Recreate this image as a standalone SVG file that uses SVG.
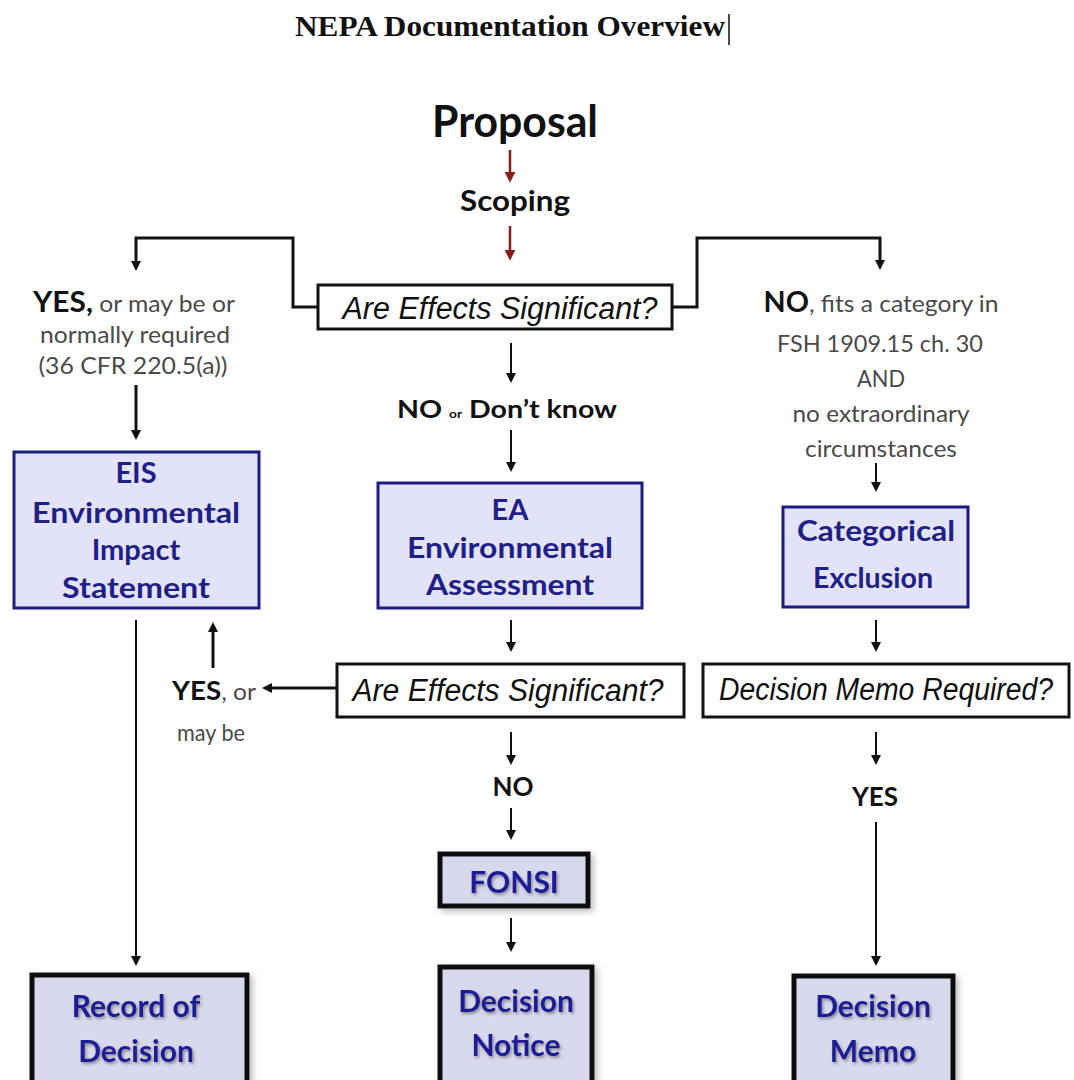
<svg xmlns="http://www.w3.org/2000/svg" width="1074" height="1080" viewBox="0 0 1074 1080">
<style>
  .title{font-family:"Liberation Serif","Times New Roman",serif;font-weight:700;font-size:30px;fill:#111}
  .big{font-family:Lato,"Open Sans","Liberation Sans",sans-serif;font-weight:700;fill:#111}
  .lbl{font-family:Lato,"Open Sans","Liberation Sans",sans-serif;font-size:24px;fill:#4a4a4a}
  .lblb{font-weight:700;fill:#111}
  .q{font-family:"Liberation Sans",Arial,sans-serif;font-style:italic;font-size:31px;fill:#111}
  .qbox{fill:#fff;stroke:#111;stroke-width:3}
  .docbox{fill:#e2e2f9;stroke:#1c1c82;stroke-width:3}
  .endbox{fill:#d9d9ee;stroke:#111;stroke-width:5}
  .doct{font-family:Lato,"Open Sans","Liberation Sans",sans-serif;font-weight:700;font-size:29px;fill:#1f1f86}
  .endt{font-family:Lato,"Open Sans","Liberation Sans",sans-serif;font-weight:700;font-size:30px;fill:#1d1d96}
  .ln{fill:none;stroke:#111;stroke-width:2}
  .ln3{fill:none;stroke:#111;stroke-width:3}
  .red{fill:none;stroke:#8e1c1c;stroke-width:2.5}
</style>
<defs>
  <marker id="ah" viewBox="0 0 10 10" refX="2" refY="5" markerWidth="10" markerHeight="10" markerUnits="userSpaceOnUse" orient="auto">
    <path d="M0,0 L10,5 L0,10 z" fill="#111"/>
  </marker>
  <marker id="ahr" viewBox="0 0 10 10" refX="2" refY="5" markerWidth="11" markerHeight="11" markerUnits="userSpaceOnUse" orient="auto">
    <path d="M0,0 L10,5 L0,10 z" fill="#8e1c1c"/>
  </marker>
  <filter id="tsh" x="-10%" y="-20%" width="130%" height="150%">
    <feDropShadow dx="1.5" dy="2" stdDeviation="1.5" flood-color="#555" flood-opacity="0.6"/>
  </filter>
  <filter id="bsh" x="-10%" y="-10%" width="130%" height="130%">
    <feDropShadow dx="3" dy="3" stdDeviation="3" flood-color="#777" flood-opacity="0.5"/>
  </filter>
</defs>
<rect width="1074" height="1080" fill="#fff"/>

<g id="title">
  <text class="title" x="510" y="36" text-anchor="middle" textLength="430" lengthAdjust="spacingAndGlyphs">NEPA Documentation Overview</text>
  <line x1="729" y1="14" x2="729" y2="45" stroke="#111" stroke-width="1.5"/>
</g>

<g id="proposal">
  <text class="big" x="515" y="137" font-size="44" text-anchor="middle" textLength="166" lengthAdjust="spacingAndGlyphs">Proposal</text>
</g>
<g id="scoping">
  <text class="big" x="515" y="211" font-size="29" text-anchor="middle" textLength="110" lengthAdjust="spacingAndGlyphs">Scoping</text>
</g>

<g id="q1">
  <rect class="qbox" x="318" y="285" width="354" height="44"/>
  <text class="q" x="500" y="319" text-anchor="middle" textLength="315" lengthAdjust="spacingAndGlyphs">Are Effects  Significant?</text>
</g>

<g id="label-yes-eis">
  <text class="lbl" x="134" y="312" text-anchor="middle" textLength="202" lengthAdjust="spacingAndGlyphs"><tspan class="lblb" font-size="29">YES,</tspan> or may be or</text>
  <text class="lbl" x="135" y="343" text-anchor="middle" textLength="190" lengthAdjust="spacingAndGlyphs">normally required</text>
  <text class="lbl" x="133" y="374" text-anchor="middle" textLength="189" lengthAdjust="spacingAndGlyphs">(36 CFR 220.5(a))</text>
</g>

<g id="label-no-ce">
  <text class="lbl" x="881" y="312" text-anchor="middle" font-size="23" textLength="235" lengthAdjust="spacingAndGlyphs"><tspan class="lblb" font-size="28">NO</tspan>, fits a category in</text>
  <text class="lbl" x="880" y="352" text-anchor="middle" font-size="23" textLength="206" lengthAdjust="spacingAndGlyphs">FSH 1909.15 ch. 30</text>
  <text class="lbl" x="881" y="387" text-anchor="middle" font-size="23" textLength="48" lengthAdjust="spacingAndGlyphs">AND</text>
  <text class="lbl" x="881" y="422" text-anchor="middle" font-size="23" textLength="177" lengthAdjust="spacingAndGlyphs">no extraordinary</text>
  <text class="lbl" x="881" y="457" text-anchor="middle" font-size="23" textLength="152" lengthAdjust="spacingAndGlyphs">circumstances</text>
</g>

<g id="label-no-ea">
  <text class="big" x="507" y="418" font-size="25" text-anchor="middle" textLength="220" lengthAdjust="spacingAndGlyphs">NO <tspan font-size="12">or</tspan> Don’t know</text>
</g>

<g id="eis">
  <rect class="docbox" x="14" y="452" width="245" height="156"/>
  <text class="doct" x="136" y="483" text-anchor="middle">EIS</text>
  <text class="doct" x="136" y="523" text-anchor="middle" textLength="208" lengthAdjust="spacingAndGlyphs">Environmental</text>
  <text class="doct" x="136" y="560" text-anchor="middle">Impact</text>
  <text class="doct" x="136" y="598" text-anchor="middle" textLength="148" lengthAdjust="spacingAndGlyphs">Statement</text>
</g>

<g id="ea">
  <rect class="docbox" x="378" y="483" width="264" height="125"/>
  <text class="doct" x="510" y="520" text-anchor="middle">EA</text>
  <text class="doct" x="510" y="558" text-anchor="middle" textLength="206" lengthAdjust="spacingAndGlyphs">Environmental</text>
  <text class="doct" x="510" y="595" text-anchor="middle" textLength="168" lengthAdjust="spacingAndGlyphs">Assessment</text>
</g>

<g id="catex">
  <rect class="docbox" x="783" y="507" width="185" height="100"/>
  <text class="doct" x="876" y="541" text-anchor="middle" textLength="158" lengthAdjust="spacingAndGlyphs">Categorical</text>
  <text class="doct" x="873" y="588" text-anchor="middle" textLength="120" lengthAdjust="spacingAndGlyphs">Exclusion</text>
</g>

<g id="q2">
  <rect class="qbox" x="337" y="664" width="347" height="53"/>
  <text class="q" x="508" y="701" text-anchor="middle" textLength="311" lengthAdjust="spacingAndGlyphs">Are Effects  Significant?</text>
</g>

<g id="q3">
  <rect class="qbox" x="703" y="664" width="366" height="53"/>
  <text class="q" x="886" y="700" font-size="28" text-anchor="middle" textLength="334" lengthAdjust="spacingAndGlyphs">Decision Memo Required?</text>
</g>

<g id="label-yes-maybe">
  <text class="lbl" x="214" y="700" text-anchor="middle" textLength="84" lengthAdjust="spacingAndGlyphs"><tspan class="lblb" font-size="27">YES</tspan>, or</text>
  <text class="lbl" x="211" y="741" text-anchor="middle" textLength="68" lengthAdjust="spacingAndGlyphs">may be</text>
</g>

<g id="label-no-fonsi">
  <text class="big" x="513" y="796" font-size="26" text-anchor="middle">NO</text>
</g>

<g id="label-yes-dm">
  <text class="big" x="875" y="806" font-size="26" text-anchor="middle">YES</text>
</g>

<g id="fonsi">
  <rect class="endbox" x="440" y="854" width="148" height="52" filter="url(#bsh)"/>
  <text class="endt" x="514" y="893" text-anchor="middle" filter="url(#tsh)">FONSI</text>
</g>

<g id="record-of-decision">
  <rect class="endbox" x="32" y="975" width="215" height="115" filter="url(#bsh)"/>
  <text class="endt" x="136" y="1017" text-anchor="middle" filter="url(#tsh)">Record of</text>
  <text class="endt" x="136" y="1062" text-anchor="middle" filter="url(#tsh)">Decision</text>
</g>

<g id="decision-notice">
  <rect class="endbox" x="440" y="967" width="152" height="123" filter="url(#bsh)"/>
  <text class="endt" x="516" y="1012" text-anchor="middle" filter="url(#tsh)">Decision</text>
  <text class="endt" x="516" y="1056" text-anchor="middle" filter="url(#tsh)">Notice</text>
</g>

<g id="decision-memo">
  <rect class="endbox" x="794" y="976" width="159" height="114" filter="url(#bsh)"/>
  <text class="endt" x="873" y="1017" text-anchor="middle" filter="url(#tsh)">Decision</text>
  <text class="endt" x="873" y="1062" text-anchor="middle" filter="url(#tsh)">Memo</text>
</g>

<g id="connectors">
  <line class="red" x1="510" y1="150" x2="510" y2="174" marker-end="url(#ahr)"/>
  <line class="red" x1="510" y1="226" x2="510" y2="252" marker-end="url(#ahr)"/>
  <polyline class="ln3" points="318,307 293,307 293,238 136,238 136,263" marker-end="url(#ah)"/>
  <polyline class="ln3" points="672,307 697,307 697,238 880,238 880,262" marker-end="url(#ah)"/>
  <line class="ln" x1="511" y1="343" x2="511" y2="375" marker-end="url(#ah)"/>
  <line class="ln" x1="511" y1="430" x2="511" y2="464" marker-end="url(#ah)"/>
  <line class="ln3" x1="136" y1="385" x2="136" y2="432" marker-end="url(#ah)"/>
  <line class="ln" x1="876" y1="463" x2="876" y2="484" marker-end="url(#ah)"/>
  <line class="ln" x1="511" y1="620" x2="511" y2="644" marker-end="url(#ah)"/>
  <line class="ln" x1="876" y1="620" x2="876" y2="644" marker-end="url(#ah)"/>
  <line class="ln3" x1="337" y1="688" x2="270" y2="688" marker-end="url(#ah)"/>
  <line class="ln3" x1="213" y1="668" x2="213" y2="630" marker-end="url(#ah)"/>
  <line class="ln" x1="136" y1="620" x2="136" y2="958" marker-end="url(#ah)"/>
  <line class="ln" x1="511" y1="732" x2="511" y2="757" marker-end="url(#ah)"/>
  <line class="ln" x1="511" y1="808" x2="511" y2="832" marker-end="url(#ah)"/>
  <line class="ln" x1="876" y1="732" x2="876" y2="757" marker-end="url(#ah)"/>
  <line class="ln" x1="876" y1="822" x2="876" y2="958" marker-end="url(#ah)"/>
  <line class="ln" x1="511" y1="918" x2="511" y2="944" marker-end="url(#ah)"/>
</g>
</svg>
